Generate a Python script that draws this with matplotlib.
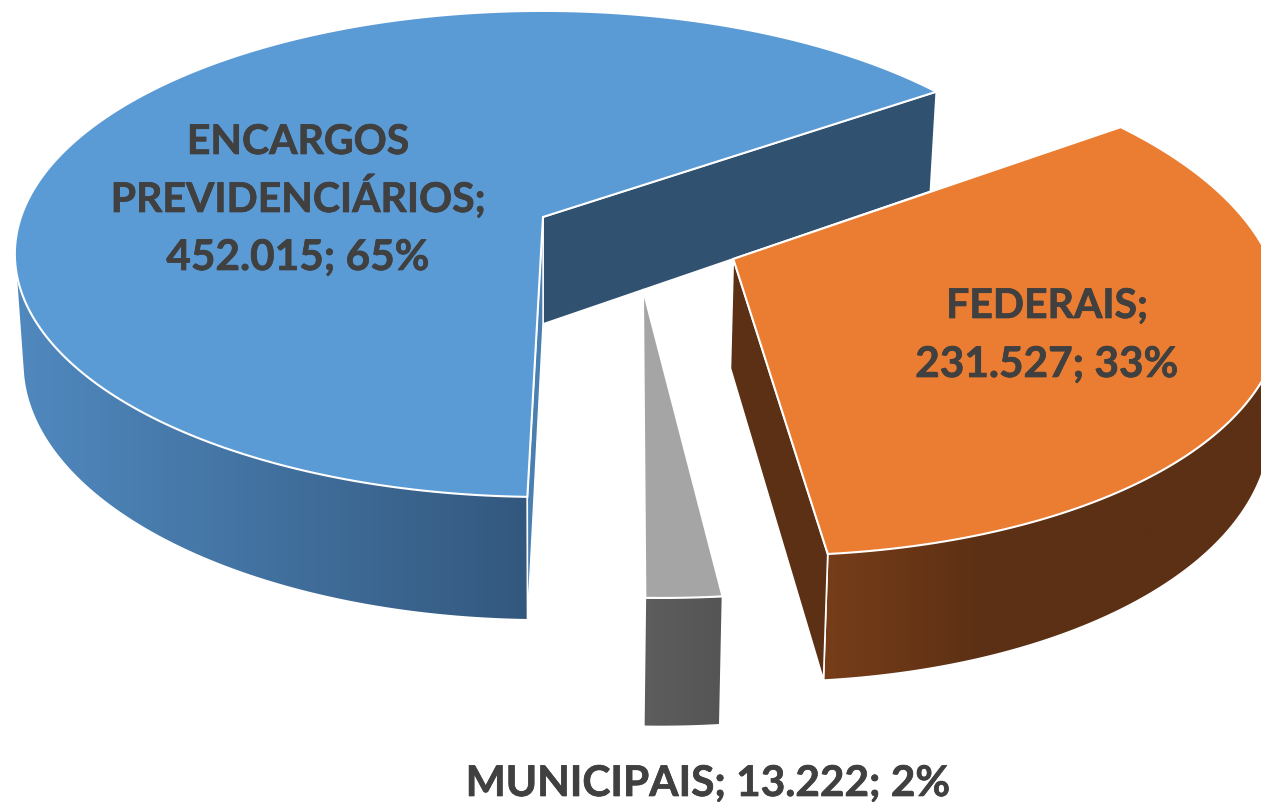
import matplotlib
matplotlib.use("Agg")
import matplotlib.pyplot as plt
import matplotlib.patheffects as pe
from matplotlib.colors import to_rgb
from matplotlib.patches import Polygon
import numpy as np

plt.rcParams['font.family'] = ['Lato', 'DejaVu Sans']

# data, in the order the pie runs
names = ["ENCARGOS PREVIDENCIÁRIOS", "MUNICIPAIS", "FEDERAIS"]
values = [452015, 13222, 231527]

top_colors = ["#5b9bd5", "#a5a5a5", "#eb7d32"]
wall_colors = [("#5089bf", "#33587e"), ("#5d5d5d", "#555555"), ("#773d19", "#5c3014")]
wall_span = [1.0, 1.0, 0.35]
side_colors = ["#30516f", None, "#5c3014"]
explode = [(0.0, 0.0), (0.183, 0.29), (0.355, 0.172)]

# projection of the pie, in pixels
CX, CY = 543, 218
A, B = 522, 237.4
K = 0.152
DEPTH = 107
K_DEPTH = 0.13
SHRINK = 0.985
START = 35.0


def top_point(x, y):
    w = 1 - K * y
    return CX + A * x / w, CY + B * y / w


def bottom_point(x, y):
    sx, sy = top_point(x, y)
    return CX + (sx - CX) * SHRINK, sy + DEPTH / (1 - K_DEPTH * y)


def rim(a0, a1, ox, oy):
    t = np.radians(np.linspace(a0, a1, 240))
    return ox + np.cos(t), oy - np.sin(t)


def hull(points):
    # monotone chain, the wall outline is the hull of both rims
    pts = sorted(set(points))

    def half(seq):
        out = []
        for p in seq:
            while len(out) > 1:
                a, b = out[-2], out[-1]
                if (b[0] - a[0]) * (p[1] - a[1]) - (b[1] - a[1]) * (p[0] - a[0]) > 0:
                    break
                out.pop()
            out.append(p)
        return out[:-1]

    return half(pts) + half(pts[::-1])


def gradient_poly(ax, pts, colors, span):
    # horizontal gradient clipped to the wall shape
    pts = np.array(pts)
    x0, x1 = pts[:, 0].min(), pts[:, 0].max()
    y0, y1 = pts[:, 1].min(), pts[:, 1].max()
    c0, c1 = np.array(to_rgb(colors[0])), np.array(to_rgb(colors[1]))
    f = np.clip(np.linspace(0, 1, 256) / span, 0, 1)[None, :, None]
    img = ax.imshow(c0 + (c1 - c0) * f, extent=(x0, x1, y1, y0), aspect='auto', interpolation='bilinear')
    edge = Polygon(pts, closed=True, fc='none', ec='white', lw=1.2)
    ax.add_patch(edge)
    img.set_clip_path(edge)


fig = plt.figure(figsize=(12.61, 8.03), dpi=100)
ax = fig.add_axes([0, 0, 1, 1])

total = sum(values)
sweeps = [v / total * 360 for v in values]
starts = START + np.concatenate([[0], np.cumsum(sweeps)[:-1]])

for i in [0, 2, 1]:
    a0, a1 = starts[i], starts[i] + sweeps[i]
    ox, oy = explode[i]
    xs, ys = rim(a0, a1, ox, oy)

    # outer wall, the rear part ends up under the top face
    front = ys - oy > -0.5
    tops = [top_point(x, y) for x, y in zip(xs[front], ys[front])]
    bots = [bottom_point(x, y) for x, y in zip(xs[front], ys[front])]
    gradient_poly(ax, hull(tops + bots), wall_colors[i], wall_span[i])

    # flat cut faces
    if i == 0:
        quad = [top_point(ox, oy), top_point(xs[0], ys[0]), bottom_point(xs[0], ys[0]), bottom_point(ox, oy)]
        ax.add_patch(Polygon(quad, closed=True, fc=side_colors[i], ec='white', lw=1.2))
        strip = [top_point(ox, oy), top_point(xs[-1], ys[-1]), bottom_point(xs[-1], ys[-1]), bottom_point(ox, oy)]
        ax.add_patch(Polygon(strip, closed=True, fc="#4a7fb2", ec='white', lw=1.0))
    if i == 2:
        quad = [top_point(ox, oy), top_point(xs[0], ys[0]), bottom_point(xs[0], ys[0]), bottom_point(ox, oy)]
        ax.add_patch(Polygon(quad, closed=True, fc=side_colors[i], ec='white', lw=1.2))

    face = [top_point(ox, oy)] + [top_point(x, y) for x, y in zip(xs, ys)]
    ax.add_patch(Polygon(face, closed=True, fc=top_colors[i], ec='white', lw=1.5))

pcts = [round(v / total * 100) for v in values]
nums = [f"{v:,}".replace(",", ".") for v in values]

label_style = dict(color="#404040", fontweight='bold', ha='center', va='baseline',
                   path_effects=[pe.withStroke(linewidth=0.5, foreground="#404040")])
first, second = names[0].split(" ")
ax.text(298, 155, first, fontsize=29.5, **label_style)
ax.text(298, 213, f"{second};", fontsize=29.5, **label_style)
ax.text(298, 271, f"{nums[0]}; {pcts[0]}%", fontsize=30.5, **label_style)
ax.text(1047, 319, f"{names[2]};", fontsize=29.5, **label_style)
ax.text(1047, 378, f"{nums[2]}; {pcts[2]}%", fontsize=30.5, **label_style)
ax.text(708, 797, f"{names[1]}; {nums[1]}; {pcts[1]}%", fontsize=30.5, **label_style)

ax.set_xlim(0, 1261)
ax.set_ylim(803, 0)
ax.axis('off')

fig.savefig("out.png", dpi=100)
plt.close(fig)
